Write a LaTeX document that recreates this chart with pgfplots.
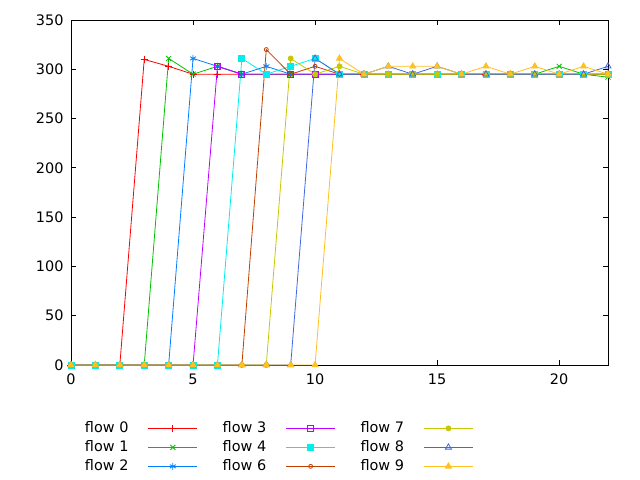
\documentclass[border=0pt]{standalone}
\usepackage{fontspec}
\setmainfont{DejaVu Sans}
\usepackage{pgfplots}
\pgfplotsset{compat=1.18}
\definecolor{c0}{HTML}{FF0000}
\definecolor{c1}{HTML}{00C000}
\definecolor{c2}{HTML}{0080FF}
\definecolor{c3}{HTML}{C000FF}
\definecolor{c4}{HTML}{00EEEE}
\definecolor{c6}{HTML}{C04000}
\definecolor{c7}{HTML}{C8C800}
\definecolor{c8}{HTML}{4169E1}
\definecolor{c9}{HTML}{FFC020}
\newcommand{\lt}[1]{\makebox[63bp][l]{#1}}
\begin{document}
\begin{tikzpicture}
\useasboundingbox (-71bp,-115bp) rectangle (569bp,365bp);
\begin{axis}[
  at={(0,0)}, anchor=origin,
  scale only axis, width=537bp, height=345bp,
  xmin=0, xmax=22, ymin=0, ymax=350,
  xtick={0,5,10,15,20}, ytick={0,50,...,350},
  tick align=inside, major tick length=5bp,
  axis line style={black, line width=0.8bp},
  tick style={black, line width=0.8bp},
  /pgf/number format/assume math mode=true,
  ticklabel style={font=\fontsize{14.5}{16}\selectfont},
  xticklabel style={yshift=-5bp},
  yticklabel style={xshift=-4bp},
  every axis plot/.append style={line width=0.8bp},
  legend columns=3,
  legend plot pos=right,
  legend cell align=left,
  legend style={draw=none, fill=none, at={(0.02,-0.157)}, anchor=north west,
    font=\fontsize{14.5}{16}\selectfont, row sep=5bp,
    nodes={inner sep=0pt, text height=11bp, text depth=3bp},
    /tikz/every even column/.append style={column sep=25bp}},
  legend image code/.code={\draw[mark repeat=2,mark phase=2] plot coordinates {(0bp,0bp) (24.5bp,0bp) (49bp,0bp)};},
  clip=true,
]
\addplot[forget plot, c0, mark=+, mark size=3.5bp] coordinates {(0,0)(1,0)(2,0)(3,310)(4,303)(5,295)(6,295)(7,295)(8,295)(9,295)(10,295)(11,295)(12,295)(13,295)(14,295)(15,295)(16,295)(17,295)(18,295)(19,295)(20,295)(21,295)(22,295)};
\addplot[forget plot, c1, mark=x, mark size=3.5bp] coordinates {(0,0)(1,0)(2,0)(3,0)(4,311)(5,295)(6,303)(7,295)(8,295)(9,295)(10,295)(11,295)(12,295)(13,295)(14,295)(15,295)(16,295)(17,295)(18,295)(19,295)(20,303)(21,295)(22,292)};
\addplot[forget plot, c2, mark=asterisk, mark size=3.5bp] coordinates {(0,0)(1,0)(2,0)(3,0)(4,0)(5,311)(6,303)(7,295)(8,303)(9,295)(10,295)(11,295)(12,295)(13,295)(14,295)(15,295)(16,295)(17,295)(18,295)(19,295)(20,295)(21,295)(22,295)};
\addplot[forget plot, c3, mark=square, mark size=3bp] coordinates {(0,0)(1,0)(2,0)(3,0)(4,0)(5,0)(6,303)(7,295)(8,295)(9,295)(10,295)(11,295)(12,295)(13,295)(14,295)(15,295)(16,295)(17,295)(18,295)(19,295)(20,295)(21,295)(22,295)};
\addplot[forget plot, c4, mark=square*, mark size=3bp] coordinates {(0,0)(1,0)(2,0)(3,0)(4,0)(5,0)(6,0)(7,311)(8,295)(9,303)(10,311)(11,295)(12,295)(13,295)(14,295)(15,295)(16,295)(17,295)(18,295)(19,295)(20,295)(21,295)(22,295)};
\addplot[forget plot, c6, mark=o, mark size=2bp] coordinates {(0,0)(1,0)(2,0)(3,0)(4,0)(5,0)(6,0)(7,0)(8,320)(9,295)(10,303)(11,295)(12,295)(13,295)(14,295)(15,295)(16,295)(17,295)(18,295)(19,295)(20,295)(21,295)(22,295)};
\addplot[forget plot, c7, mark=*, mark size=2.5bp] coordinates {(0,0)(1,0)(2,0)(3,0)(4,0)(5,0)(6,0)(7,0)(8,0)(9,311)(10,295)(11,303)(12,295)(13,295)(14,295)(15,295)(16,295)(17,295)(18,295)(19,295)(20,295)(21,295)(22,295)};
\addplot[forget plot, c8, mark=triangle, mark size=3.5bp] coordinates {(0,0)(1,0)(2,0)(3,0)(4,0)(5,0)(6,0)(7,0)(8,0)(9,0)(10,311)(11,295)(12,295)(13,303)(14,295)(15,303)(16,295)(17,295)(18,295)(19,295)(20,295)(21,295)(22,303)};
\addplot[forget plot, c9, mark=triangle*, mark size=3.5bp] coordinates {(0,0)(1,0)(2,0)(3,0)(4,0)(5,0)(6,0)(7,0)(8,0)(9,0)(10,0)(11,311)(12,295)(13,303)(14,303)(15,303)(16,295)(17,303)(18,295)(19,303)(20,295)(21,303)(22,295)};
\addlegendimage{c0, mark=+, mark size=3.5bp, line width=0.8bp}
\addlegendentry{\lt{flow 0}}
\addlegendimage{c3, mark=square, mark size=3bp, line width=0.8bp}
\addlegendentry{\lt{flow 3}}
\addlegendimage{c7, mark=*, mark size=2.5bp, line width=0.8bp}
\addlegendentry{\lt{flow 7}}
\addlegendimage{c1, mark=x, mark size=3.5bp, line width=0.8bp}
\addlegendentry{\lt{flow 1}}
\addlegendimage{c4, mark=square*, mark size=3bp, line width=0.8bp}
\addlegendentry{\lt{flow 4}}
\addlegendimage{c8, mark=triangle, mark size=3.5bp, line width=0.8bp}
\addlegendentry{\lt{flow 8}}
\addlegendimage{c2, mark=asterisk, mark size=3.5bp, line width=0.8bp}
\addlegendentry{\lt{flow 2}}
\addlegendimage{c6, mark=o, mark size=2bp, line width=0.8bp}
\addlegendentry{\lt{flow 6}}
\addlegendimage{c9, mark=triangle*, mark size=3.5bp, line width=0.8bp}
\addlegendentry{\lt{flow 9}}
\end{axis}
\end{tikzpicture}
\end{document}
